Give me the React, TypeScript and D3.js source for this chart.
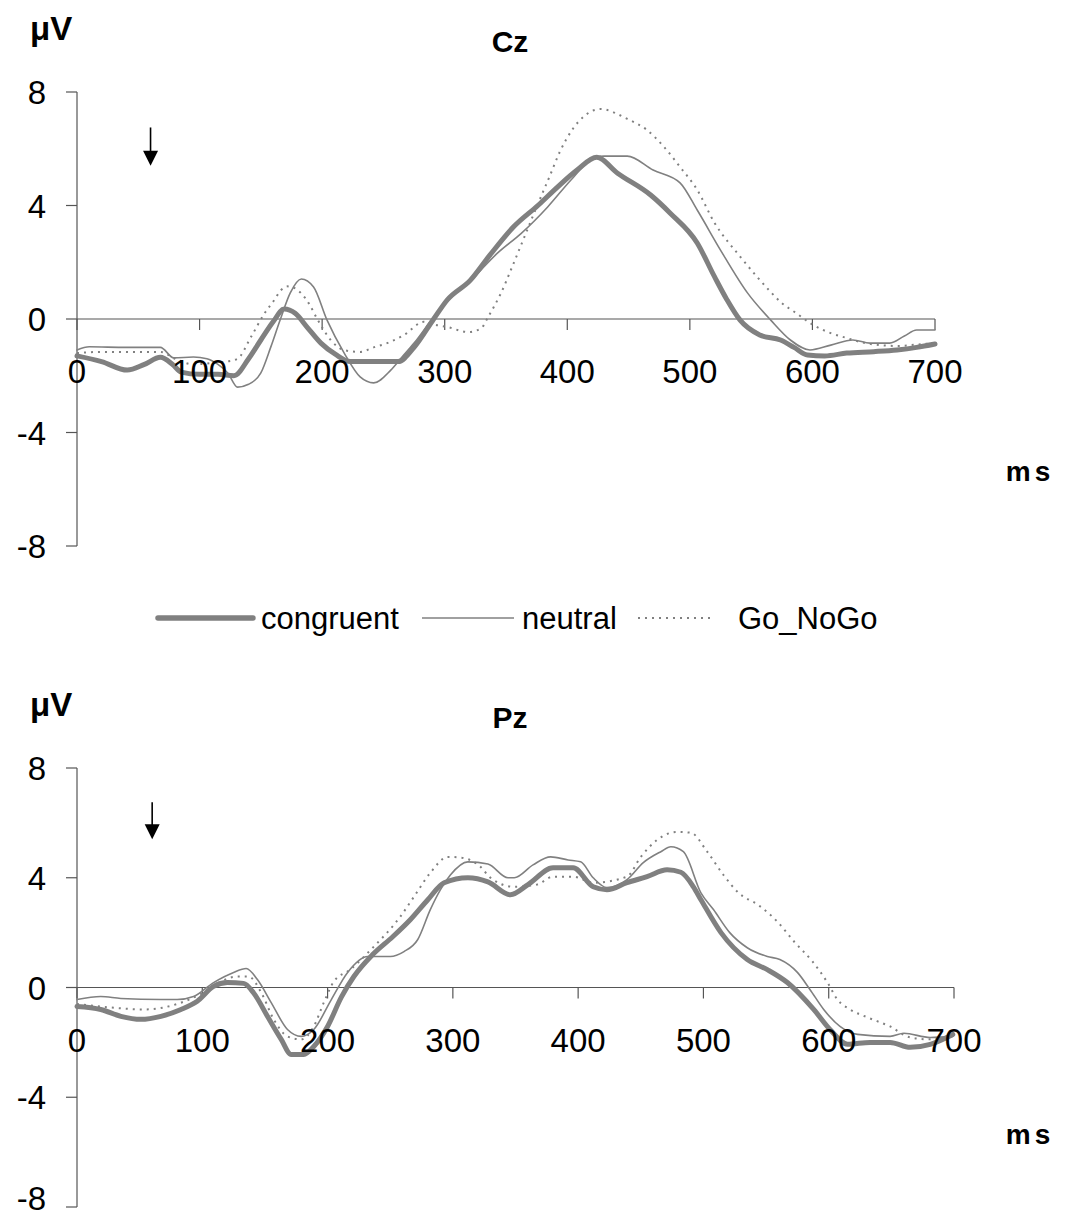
import React from "react";
import * as d3 from "d3";

const seriesNames = ["congruent", "neutral", "Go_NoGo"];
const yTicks = [8, 4, 0, -4, -8];
const xTicks = [0, 100, 200, 300, 400, 500, 600, 700];

// Cz
const czCongruentT = [0, 20, 41, 55, 68, 78, 85, 100, 115, 128, 140, 150, 160, 169, 178, 188, 199, 211, 223, 240, 262, 275, 291, 302, 321, 337, 356, 376, 392, 408, 424, 441, 468, 484, 506, 520, 530, 541, 557, 574, 585, 596, 610, 628, 650, 669, 685, 700];
const czCongruentV = [-1.3, -1.5, -1.8, -1.6, -1.35, -1.6, -1.87, -1.95, -1.95, -2.0, -1.4, -0.74, -0.1, 0.35, 0.2, -0.3, -0.85, -1.25, -1.5, -1.5, -1.5, -1.0, 0.0, 0.67, 1.37, 2.26, 3.24, 4.0, 4.65, 5.25, 5.7, 5.14, 4.37, 3.73, 2.68, 1.5, 0.7, -0.04, -0.56, -0.74, -1.0, -1.27, -1.3, -1.2, -1.15, -1.09, -1.0, -0.88];
const czNeutralT = [0, 10, 40, 68, 79, 95, 106, 115, 123, 131, 140, 150, 158, 166, 174, 183, 193, 204, 218, 231, 242, 256, 265, 275, 291, 305, 320, 330, 343, 362, 384, 403, 419, 430, 449, 470, 492, 506, 525, 547, 566, 582, 598, 615, 633, 647, 663, 675, 685, 700];
const czNeutralV = [-1.09, -0.98, -1.0, -1.0, -1.37, -1.34, -1.4, -1.6, -1.9, -2.4, -2.3, -1.9, -1.0, 0.0, 0.92, 1.41, 1.13, -0.04, -1.2, -2.04, -2.25, -1.8, -1.35, -0.85, 0.07, 0.75, 1.3, 1.75, 2.32, 3.0, 3.95, 4.9, 5.6, 5.74, 5.74, 5.25, 4.8, 3.84, 2.43, 0.92, -0.04, -0.74, -1.09, -0.92, -0.74, -0.85, -0.85, -0.6, -0.39, -0.39];
const czGoNoGoT = [0, 20, 50, 68, 80, 95, 110, 122, 131, 142, 153, 161, 166, 172, 177, 189, 196, 207, 218, 231, 242, 253, 267, 283, 292, 302, 319, 330, 335, 340, 346, 354, 365, 373, 386, 394, 405, 413, 427, 449, 465, 479, 492, 506, 520, 541, 555, 566, 574, 587, 598, 615, 628, 639, 655, 670, 685, 700];
const czGoNoGoV = [-1.2, -1.16, -1.16, -1.16, -1.4, -1.6, -1.55, -1.5, -1.4, -0.63, 0.2, 0.67, 1.0, 1.15, 1.1, 0.56, 0.0, -0.74, -1.1, -1.16, -1.0, -0.85, -0.56, -0.1, -0.2, -0.28, -0.46, -0.32, 0.04, 0.42, 0.92, 1.73, 2.89, 3.74, 5.07, 5.9, 6.73, 7.12, 7.4, 7.05, 6.66, 6.06, 5.36, 4.55, 3.4, 2.2, 1.48, 0.95, 0.6, 0.2, -0.14, -0.5, -0.67, -0.81, -0.92, -0.95, -0.9, -0.85];

// Pz
const pzCongruentT = [0, 19, 35, 51, 67, 83, 96, 109, 120, 133, 141, 152, 163, 171, 181, 189, 200, 211, 221, 236, 252, 266, 280, 293, 312, 328, 346, 360, 380, 396, 412, 423, 439, 455, 471, 482, 492, 498, 514, 535, 551, 567, 588, 601, 615, 633, 649, 665, 681, 699];
const pzCongruentV = [-0.69, -0.8, -1.05, -1.16, -1.05, -0.8, -0.5, 0.04, 0.18, 0.15, -0.2, -1.05, -1.89, -2.44, -2.44, -2.15, -1.42, -0.35, 0.4, 1.2, 1.85, 2.47, 3.2, 3.82, 4.0, 3.85, 3.38, 3.75, 4.36, 4.36, 3.67, 3.56, 3.82, 4.04, 4.29, 4.2, 3.67, 3.2, 2.0, 1.02, 0.65, 0.18, -0.8, -1.53, -2.07, -2.0, -2.0, -2.18, -2.07, -1.71];
const pzNeutralT = [0, 19, 35, 67, 80, 93, 109, 125, 135, 144, 155, 168, 179, 189, 203, 216, 232, 250, 261, 272, 282, 290, 298, 312, 328, 344, 349, 364, 378, 392, 402, 412, 423, 439, 452, 466, 474, 484, 498, 508, 521, 535, 551, 561, 575, 585, 596, 609, 623, 649, 660, 681, 699];
const pzNeutralV = [-0.44, -0.33, -0.4, -0.44, -0.44, -0.33, 0.18, 0.55, 0.69, 0.29, -0.55, -1.53, -1.78, -1.53, -0.44, 0.55, 1.13, 1.13, 1.31, 1.75, 2.84, 3.56, 4.1, 4.58, 4.5, 4.0, 4.0, 4.47, 4.76, 4.65, 4.58, 4.0, 3.64, 3.93, 4.55, 4.95, 5.13, 4.95, 3.45, 2.84, 2.0, 1.45, 1.13, 1.02, 0.55, -0.07, -0.8, -1.42, -1.71, -1.78, -1.67, -1.82, -1.78];
const pzGoNoGoT = [0, 27, 53, 80, 101, 114, 128, 137, 147, 157, 168, 179, 189, 197, 205, 218, 235, 258, 269, 282, 296, 307, 322, 330, 349, 367, 380, 396, 412, 439, 450, 463, 479, 490, 503, 516, 528, 544, 559, 573, 587, 599, 607, 617, 631, 649, 665, 681, 699];
const pzGoNoGoV = [-0.6, -0.73, -0.8, -0.6, -0.18, 0.2, 0.4, 0.4, -0.18, -1.16, -1.78, -1.89, -1.42, -0.55, 0.22, 0.65, 1.4, 2.58, 3.31, 4.18, 4.76, 4.73, 4.4, 4.0, 3.67, 3.75, 4.04, 4.04, 3.82, 4.04, 4.76, 5.38, 5.67, 5.64, 4.95, 4.1, 3.45, 3.0, 2.4, 1.64, 0.95, 0.18, -0.44, -0.8, -1.09, -1.42, -1.82, -1.89, -1.78];

// stimulus arrow (time ms, from µV, to µV)
const arrowTime = 60;
const arrowFrom = 6.75;
const arrowTo = 5.4;

const FONT = "'Liberation Sans', Arial, sans-serif";
const GRAY = "#808080";

type Panel = {
  title: string;
  x0: number; x1: number; yTop: number; yBot: number;
  series: [number[], number[]][];
};

const panels: Panel[] = [
  { title: "Cz", x0: 77, x1: 935, yTop: 92, yBot: 546,
    series: [[czCongruentT, czCongruentV], [czNeutralT, czNeutralV], [czGoNoGoT, czGoNoGoV]] },
  { title: "Pz", x0: 77, x1: 954, yTop: 768, yBot: 1207,
    series: [[pzCongruentT, pzCongruentV], [pzNeutralT, pzNeutralV], [pzGoNoGoT, pzGoNoGoV]] },
];

const styles = [
  { w: 5, dash: undefined as string | undefined },
  { w: 1.6, dash: undefined as string | undefined },
  { w: 2, dash: "2,5" },
];

function PanelView({ p }: { p: Panel }) {
  const x = d3.scaleLinear().domain([0, 700]).range([p.x0, p.x1]);
  const y = d3.scaleLinear().domain([-8, 8]).range([p.yBot, p.yTop]);
  const line = d3.line<[number, number]>().x(d => x(d[0])).y(d => y(d[1])).curve(d3.curveMonotoneX);
  const y0 = y(0);
  const ax = x(arrowTime);
  const tipY = y(arrowTo);
  return (
    <g>
      <text x={30} y={p.yTop - 52} fontFamily={FONT} fontWeight="bold" fontSize={33}>μV</text>
      <text x={510} y={p.yTop - 40} textAnchor="middle" fontFamily={FONT} fontWeight="bold" fontSize={30}>{p.title}</text>
      <text x={1030} y={y(-5.7)} textAnchor="middle" fontFamily={FONT} fontWeight="bold" fontSize={28} letterSpacing={4}>ms</text>
      {/* y axis */}
      <line x1={p.x0} x2={p.x0} y1={p.yTop} y2={p.yBot} stroke="#555" strokeWidth={1.2} />
      {yTicks.map(t => (
        <g key={t}>
          <line x1={p.x0 - 11} x2={p.x0} y1={y(t)} y2={y(t)} stroke="#555" strokeWidth={1.2} />
          <text x={46} y={Math.min(y(t) + 12, 1210)} textAnchor="end" fontFamily={FONT} fontSize={33}>{t}</text>
        </g>
      ))}
      {/* x axis at 0 */}
      <line x1={p.x0} x2={p.x1} y1={y0} y2={y0} stroke="#555" strokeWidth={1.2} />
      {xTicks.map(t => (
        <line key={t} x1={x(t)} x2={x(t)} y1={y0} y2={y0 + 11} stroke="#555" strokeWidth={1.2} />
      ))}
      {p.series.map(([ts, vs], i) => (
        <path key={i} d={line(ts.map((t, j) => [t, vs[j]] as [number, number])) || ""} fill="none"
          stroke={GRAY} strokeWidth={styles[i].w} strokeDasharray={styles[i].dash}
          strokeLinejoin="round" strokeLinecap={i === 2 ? "butt" : "round"} />
      ))}
      {xTicks.map(t => (
        <text key={t} x={x(t)} y={y0 + 64} textAnchor="middle" fontFamily={FONT} fontSize={33}>{t}</text>
      ))}
      {/* arrow */}
      <line x1={ax} x2={ax} y1={y(arrowFrom)} y2={tipY - 14} stroke="#000" strokeWidth={1.6} />
      <path d={`M${ax - 7.5},${tipY - 15} L${ax + 7.5},${tipY - 15} L${ax},${tipY} Z`} fill="#000" />
    </g>
  );
}

export default function App() {
  const legendItems = [
    { x1: 158, x2: 253, tx: 261 },
    { x1: 422, x2: 514, tx: 522 },
    { x1: 638, x2: 712, tx: 738 },
  ];
  const ly = 618;
  return (
    <svg width={1069} height={1218} style={{ position: "absolute", left: 0, top: 0, background: "#fff" }}>
      <rect width={1069} height={1218} fill="#fff" />
      {panels.map(p => <PanelView key={p.title} p={p} />)}
      {seriesNames.map((n, i) => (
        <g key={n}>
          <line x1={legendItems[i].x1} x2={legendItems[i].x2} y1={ly} y2={ly} stroke={GRAY}
            strokeWidth={i === 0 ? 5.5 : styles[i].w} strokeDasharray={styles[i].dash} strokeLinecap={i === 0 ? "round" : "butt"} />
          <text x={legendItems[i].tx} y={ly + 11} fontFamily={FONT} fontSize={31}>{n}</text>
        </g>
      ))}
    </svg>
  );
}
